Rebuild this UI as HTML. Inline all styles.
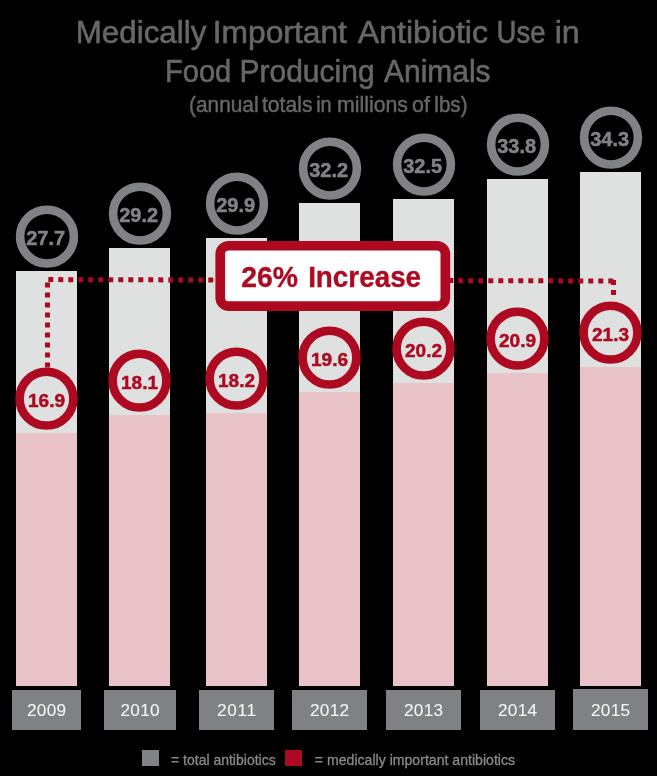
<!DOCTYPE html>
<html><head><meta charset="utf-8"><style>
html,body{margin:0;padding:0;background:#000;}
body{width:657px;height:776px;overflow:hidden;}
svg{display:block;will-change:transform;}
text{font-family:"Liberation Sans", sans-serif;}
</style></head><body>
<svg width="657" height="776" viewBox="0 0 657 776">
<rect width="657" height="776" fill="#000"/>
<rect x="16" y="271" width="61" height="162" fill="#dfe0e0"/>
<rect x="16" y="433" width="61" height="253" fill="#eac3c8"/>
<rect x="12" y="690" width="69" height="40" fill="#808184"/>
<text x="46.5" y="716.3" font-size="17.2" fill="#f4f4f4" stroke="#f4f4f4" stroke-width="0.1" text-anchor="middle" textLength="39" lengthAdjust="spacing">2009</text>
<rect x="109" y="248" width="61" height="167" fill="#dfe0e0"/>
<rect x="109" y="415" width="61" height="271" fill="#eac3c8"/>
<rect x="104" y="690" width="72" height="40" fill="#808184"/>
<text x="140.0" y="716.3" font-size="17.2" fill="#f4f4f4" stroke="#f4f4f4" stroke-width="0.1" text-anchor="middle" textLength="39" lengthAdjust="spacing">2010</text>
<rect x="206" y="238" width="61" height="175" fill="#dfe0e0"/>
<rect x="206" y="413" width="61" height="273" fill="#eac3c8"/>
<rect x="199" y="690" width="75" height="40" fill="#808184"/>
<text x="236.5" y="716.3" font-size="17.2" fill="#f4f4f4" stroke="#f4f4f4" stroke-width="0.1" text-anchor="middle" textLength="39" lengthAdjust="spacing">2011</text>
<rect x="299" y="203" width="61" height="189" fill="#dfe0e0"/>
<rect x="299" y="392" width="61" height="294" fill="#eac3c8"/>
<rect x="292" y="690" width="75" height="40" fill="#808184"/>
<text x="329.5" y="716.3" font-size="17.2" fill="#f4f4f4" stroke="#f4f4f4" stroke-width="0.1" text-anchor="middle" textLength="39" lengthAdjust="spacing">2012</text>
<rect x="393" y="199" width="61" height="184" fill="#dfe0e0"/>
<rect x="393" y="383" width="61" height="303" fill="#eac3c8"/>
<rect x="386" y="690" width="75" height="40" fill="#808184"/>
<text x="423.5" y="716.3" font-size="17.2" fill="#f4f4f4" stroke="#f4f4f4" stroke-width="0.1" text-anchor="middle" textLength="39" lengthAdjust="spacing">2013</text>
<rect x="487" y="179" width="61" height="194" fill="#dfe0e0"/>
<rect x="487" y="373" width="61" height="313" fill="#eac3c8"/>
<rect x="480" y="690" width="75" height="40" fill="#808184"/>
<text x="517.5" y="716.3" font-size="17.2" fill="#f4f4f4" stroke="#f4f4f4" stroke-width="0.1" text-anchor="middle" textLength="39" lengthAdjust="spacing">2014</text>
<rect x="580" y="172" width="61" height="195" fill="#dfe0e0"/>
<rect x="580" y="367" width="61" height="319" fill="#eac3c8"/>
<rect x="573" y="689" width="75" height="41" fill="#808184"/>
<text x="610.5" y="716.3" font-size="17.2" fill="#f4f4f4" stroke="#f4f4f4" stroke-width="0.1" text-anchor="middle" textLength="39" lengthAdjust="spacing">2015</text>
<path d="M48.3 279.6 L613.3 281.0" fill="none" stroke="#ad0a22" stroke-width="5" stroke-dasharray="5 5"/>
<path d="M47.5 282.5 V368" fill="none" stroke="#ad0a22" stroke-width="5" stroke-dasharray="5 5"/>
<path d="M613.5 280.1 V300" fill="none" stroke="#ad0a22" stroke-width="5" stroke-dasharray="5 5"/>
<circle cx="47.0" cy="236.6" r="26.9" fill="#000" stroke="#818285" stroke-width="8.6"/>
<text x="45.7" y="244.9" font-size="20" font-weight="bold" fill="#818285" stroke="#818285" stroke-width="0.5" text-anchor="middle">27.7</text>
<circle cx="46.5" cy="398.65" r="26.9" fill="none" stroke="#ad0a22" stroke-width="8.6"/>
<text x="46.5" y="406.6" font-size="19" font-weight="bold" fill="#ad0a22" stroke="#ad0a22" stroke-width="0.5" text-anchor="middle">16.9</text>
<circle cx="140.0" cy="213.6" r="26.9" fill="#000" stroke="#818285" stroke-width="8.6"/>
<text x="138.7" y="221.9" font-size="20" font-weight="bold" fill="#818285" stroke="#818285" stroke-width="0.5" text-anchor="middle">29.2</text>
<circle cx="139.5" cy="380.65" r="26.9" fill="none" stroke="#ad0a22" stroke-width="8.6"/>
<text x="139.5" y="388.6" font-size="19" font-weight="bold" fill="#ad0a22" stroke="#ad0a22" stroke-width="0.5" text-anchor="middle">18.1</text>
<circle cx="237.0" cy="203.6" r="26.9" fill="#000" stroke="#818285" stroke-width="8.6"/>
<text x="235.7" y="211.9" font-size="20" font-weight="bold" fill="#818285" stroke="#818285" stroke-width="0.5" text-anchor="middle">29.9</text>
<circle cx="236.5" cy="378.65" r="26.9" fill="none" stroke="#ad0a22" stroke-width="8.6"/>
<text x="236.5" y="386.6" font-size="19" font-weight="bold" fill="#ad0a22" stroke="#ad0a22" stroke-width="0.5" text-anchor="middle">18.2</text>
<circle cx="330.0" cy="168.6" r="26.9" fill="#000" stroke="#818285" stroke-width="8.6"/>
<text x="328.7" y="176.9" font-size="20" font-weight="bold" fill="#818285" stroke="#818285" stroke-width="0.5" text-anchor="middle">32.2</text>
<circle cx="329.5" cy="357.65" r="26.9" fill="none" stroke="#ad0a22" stroke-width="8.6"/>
<text x="329.5" y="365.6" font-size="19" font-weight="bold" fill="#ad0a22" stroke="#ad0a22" stroke-width="0.5" text-anchor="middle">19.6</text>
<circle cx="424.0" cy="164.6" r="26.9" fill="#000" stroke="#818285" stroke-width="8.6"/>
<text x="422.7" y="172.9" font-size="20" font-weight="bold" fill="#818285" stroke="#818285" stroke-width="0.5" text-anchor="middle">32.5</text>
<circle cx="423.5" cy="348.65" r="26.9" fill="none" stroke="#ad0a22" stroke-width="8.6"/>
<text x="423.5" y="356.6" font-size="19" font-weight="bold" fill="#ad0a22" stroke="#ad0a22" stroke-width="0.5" text-anchor="middle">20.2</text>
<circle cx="518.0" cy="144.6" r="26.9" fill="#000" stroke="#818285" stroke-width="8.6"/>
<text x="516.7" y="152.9" font-size="20" font-weight="bold" fill="#818285" stroke="#818285" stroke-width="0.5" text-anchor="middle">33.8</text>
<circle cx="517.5" cy="338.65" r="26.9" fill="none" stroke="#ad0a22" stroke-width="8.6"/>
<text x="517.5" y="346.6" font-size="19" font-weight="bold" fill="#ad0a22" stroke="#ad0a22" stroke-width="0.5" text-anchor="middle">20.9</text>
<circle cx="611.0" cy="137.6" r="26.9" fill="#000" stroke="#818285" stroke-width="8.6"/>
<text x="609.7" y="145.9" font-size="20" font-weight="bold" fill="#818285" stroke="#818285" stroke-width="0.5" text-anchor="middle">34.3</text>
<circle cx="610.5" cy="332.65" r="26.9" fill="none" stroke="#ad0a22" stroke-width="8.6"/>
<text x="610.5" y="340.6" font-size="19" font-weight="bold" fill="#ad0a22" stroke="#ad0a22" stroke-width="0.5" text-anchor="middle">21.3</text>
<rect x="220.25" y="245.75" width="225.1" height="60.39999999999999" rx="8.5" fill="#fff" stroke="#ad0a22" stroke-width="9.7"/>
<text x="75.74" y="42.5" font-size="32" font-weight="normal" fill="#676767" stroke="#676767" stroke-width="0.6" textLength="130.56" lengthAdjust="spacingAndGlyphs">Medically</text>
<text x="212.71" y="42.5" font-size="32" font-weight="normal" fill="#676767" stroke="#676767" stroke-width="0.6" textLength="134.18" lengthAdjust="spacingAndGlyphs">Important</text>
<text x="357.8" y="42.5" font-size="32" font-weight="normal" fill="#676767" stroke="#676767" stroke-width="0.6" textLength="130.2" lengthAdjust="spacingAndGlyphs">Antibiotic</text>
<text x="496.58" y="42.5" font-size="32" font-weight="normal" fill="#676767" stroke="#676767" stroke-width="0.6" textLength="48.9" lengthAdjust="spacingAndGlyphs">Use</text>
<text x="554.68" y="42.5" font-size="32" font-weight="normal" fill="#676767" stroke="#676767" stroke-width="0.6" textLength="25.13" lengthAdjust="spacingAndGlyphs">in</text>
<text x="164.98" y="82.4" font-size="32" font-weight="normal" fill="#676767" stroke="#676767" stroke-width="0.6" textLength="66.25" lengthAdjust="spacingAndGlyphs">Food</text>
<text x="239.53" y="82.4" font-size="32" font-weight="normal" fill="#676767" stroke="#676767" stroke-width="0.6" textLength="135.06" lengthAdjust="spacingAndGlyphs">Producing</text>
<text x="384.0" y="82.4" font-size="32" font-weight="normal" fill="#676767" stroke="#676767" stroke-width="0.6" textLength="106.54" lengthAdjust="spacingAndGlyphs">Animals</text>
<text x="189.03" y="111.5" font-size="21.5" font-weight="normal" fill="#676767" stroke="#676767" stroke-width="0.45" textLength="69.52" lengthAdjust="spacingAndGlyphs">(annual</text>
<text x="262.0" y="111.5" font-size="21.5" font-weight="normal" fill="#676767" stroke="#676767" stroke-width="0.45" textLength="50.44" lengthAdjust="spacingAndGlyphs">totals</text>
<text x="316.17" y="111.5" font-size="21.5" font-weight="normal" fill="#676767" stroke="#676767" stroke-width="0.45" textLength="15.51" lengthAdjust="spacingAndGlyphs">in</text>
<text x="337.01" y="111.5" font-size="21.5" font-weight="normal" fill="#676767" stroke="#676767" stroke-width="0.45" textLength="70.93" lengthAdjust="spacingAndGlyphs">millions</text>
<text x="412.1" y="111.5" font-size="21.5" font-weight="normal" fill="#676767" stroke="#676767" stroke-width="0.45" textLength="17.87" lengthAdjust="spacingAndGlyphs">of</text>
<text x="434.34" y="111.5" font-size="21.5" font-weight="normal" fill="#676767" stroke="#676767" stroke-width="0.45" textLength="33.17" lengthAdjust="spacingAndGlyphs">lbs)</text>
<rect x="142" y="750" width="17" height="16" fill="#818285"/>
<rect x="285" y="750" width="17" height="16" fill="#ad0a22"/>
<text x="171.0" y="765.2" font-size="15" font-weight="normal" fill="#8a8a8a" stroke="#8a8a8a" stroke-width="0.3" textLength="104.67" lengthAdjust="spacingAndGlyphs">= total antibiotics</text>
<text x="314.8" y="765.2" font-size="15" font-weight="normal" fill="#8a8a8a" stroke="#8a8a8a" stroke-width="0.3" textLength="200.27" lengthAdjust="spacingAndGlyphs">= medically important antibiotics</text>
<text x="241.32" y="287" font-size="29" font-weight="bold" fill="#ad0a22" stroke="#ad0a22" stroke-width="0.35" textLength="56.77" lengthAdjust="spacingAndGlyphs">26%</text>
<text x="308.14" y="287" font-size="29" font-weight="bold" fill="#ad0a22" stroke="#ad0a22" stroke-width="0.35" textLength="112.98" lengthAdjust="spacingAndGlyphs">Increase</text>
</svg>
</body></html>
